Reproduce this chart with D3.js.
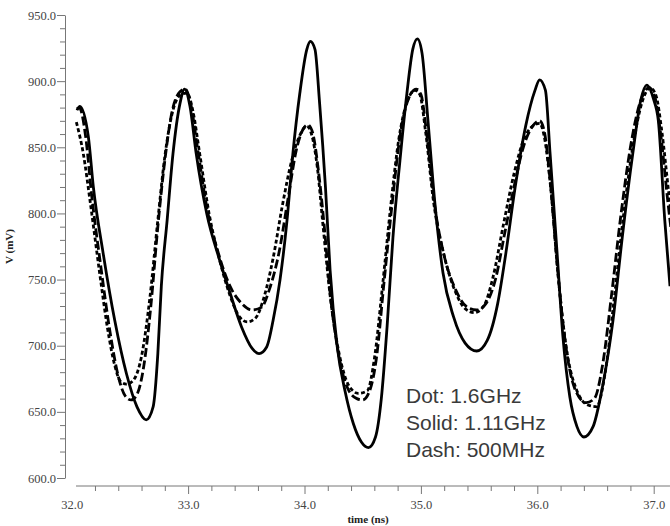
<!DOCTYPE html>
<html>
<head>
<meta charset="utf-8">
<script src="https://cdn.jsdelivr.net/npm/d3@7"></script>
<style>
  body { margin: 0; background: #fff; }
  svg { display: block; }
</style>
</head>
<body>
<script>
// Data (time in ns, voltage in mV)
var solidT = [32.045, 32.07, 32.143, 32.186, 32.27, 32.37, 32.47, 32.56, 32.64, 32.70, 32.74, 32.77, 32.82, 32.87, 32.93, 32.97,
  33.016, 33.07, 33.16, 33.27, 33.36, 33.46, 33.55, 33.61, 33.675, 33.73, 33.79, 33.85, 33.90, 33.96, 34.02, 34.05,
  34.09, 34.13, 34.18, 34.22, 34.28, 34.35, 34.42, 34.49, 34.55, 34.61, 34.66, 34.71, 34.76, 34.82, 34.88, 34.93, 34.97,
  35.01, 35.06, 35.12, 35.19, 35.28, 35.38, 35.48, 35.57, 35.66, 35.73, 35.81, 35.90, 35.98, 36.02,
  36.07, 36.11, 36.17, 36.22, 36.28, 36.34, 36.40, 36.48, 36.56, 36.65, 36.73, 36.82, 36.89, 36.94,
  37.0, 37.04, 37.095, 37.14];
var solidV = [878, 881, 858, 820, 770, 719, 679, 654, 644, 654, 694, 745, 795, 845, 883, 894,
  881, 845, 800, 765, 740, 714, 698, 694, 699, 719, 750, 795, 845, 891, 924, 930,
  924, 883, 820, 757, 700, 665, 641, 627, 623, 631, 660, 715, 782, 840, 891, 924, 932,
  921, 871, 808, 755, 722, 702, 696, 704, 732, 770, 820, 866, 893, 901,
  893, 845, 770, 707, 661, 639, 631, 639, 669, 719, 782, 845, 886, 897,
  886, 870, 795, 745];

var dashT = [32.045, 32.065, 32.12, 32.17, 32.25, 32.33, 32.40, 32.46, 32.51, 32.56, 32.62, 32.68, 32.74, 32.80, 32.86, 32.93, 32.975,
  33.02, 33.08, 33.16, 33.26, 33.36, 33.46, 33.55, 33.63, 33.70, 33.78, 33.86, 33.93, 33.99, 34.03,
  34.07, 34.12, 34.17, 34.22, 34.29, 34.37, 34.45, 34.50, 34.56, 34.62, 34.68, 34.75, 34.82, 34.89, 34.96,
  35.0, 35.05, 35.12, 35.2, 35.3, 35.4, 35.48, 35.56, 35.64, 35.72, 35.80, 35.88, 35.96, 36.02,
  36.06, 36.11, 36.17, 36.24, 36.32, 36.42, 36.49, 36.56, 36.64, 36.72, 36.80, 36.88, 36.96,
  37.01, 37.06, 37.12, 37.16];
var dashV = [879, 880, 858, 815, 760, 710, 677, 662, 659, 663, 685, 730, 790, 840, 876, 892, 894,
  884, 850, 805, 770, 745, 732, 727, 729, 743, 770, 812, 848, 864, 867,
  861, 832, 790, 740, 695, 668, 660, 659, 666, 692, 745, 805, 858, 886, 894,
  890, 860, 805, 768, 742, 729, 727, 732, 750, 785, 820, 850, 866, 870,
  862, 825, 762, 703, 668, 657, 660, 685, 740, 800, 850, 883, 895,
  888, 860, 810, 780];

var dotT = [32.04, 32.10, 32.16, 32.24, 32.31, 32.37, 32.42, 32.47, 32.53, 32.60, 32.67, 32.74, 32.80, 32.87, 32.94, 32.99,
  33.04, 33.10, 33.18, 33.27, 33.36, 33.44, 33.51, 33.58, 33.65, 33.73, 33.81, 33.89, 33.96, 34.02,
  34.06, 34.11, 34.16, 34.22, 34.30, 34.38, 34.46, 34.54, 34.60, 34.67, 34.74, 34.81, 34.88, 34.95,
  34.99, 35.04, 35.11, 35.2, 35.3, 35.38, 35.46, 35.54, 35.62, 35.71, 35.80, 35.88, 35.96, 36.02,
  36.06, 36.12, 36.18, 36.25, 36.34, 36.44, 36.51, 36.58, 36.66, 36.74, 36.82, 36.90, 36.97,
  37.02, 37.07, 37.13, 37.17];
var dotV = [869, 845, 808, 755, 712, 685, 673, 671, 674, 692, 735, 795, 843, 878, 890, 891,
  878, 845, 800, 765, 738, 722, 718, 721, 736, 766, 806, 840, 859, 866,
  860, 835, 790, 738, 693, 670, 664, 666, 690, 745, 805, 856, 884, 893,
  890, 862, 808, 768, 740, 728, 725, 730, 752, 792, 830, 855, 866, 868,
  858, 815, 752, 698, 666, 655, 654, 678, 735, 798, 850, 884, 895,
  889, 862, 815, 785];

var yMajor = [600, 650, 700, 750, 800, 850, 900, 950];
var xMajor = [32, 33, 34, 35, 36, 37];
var legendLines = ["Dot: 1.6GHz", "Solid: 1.11GHz", "Dash: 500MHz"];

// Dimensions
var width = 670;
var height = 526;

var x = d3.scaleLinear().domain([32, 37]).range([71.7, 653.7]);
var y = d3.scaleLinear().domain([600, 950]).range([478, 15]);

var svg = d3.select("body")
  .append("svg")
  .attr("width", width)
  .attr("height", height);

var axisColor = "#777";
var labelColor = "#444";
var serif = "'Liberation Serif', 'Times New Roman', serif";

// Y axis
var yMinor = d3.range(600, 951, 10).filter(function (v) { return v % 50 !== 0; });
var yAxisG = svg.append("g").attr("transform", "translate(65,0)");
yAxisG.append("g")
  .call(d3.axisLeft(y).tickValues(yMinor).tickSize(5).tickSizeOuter(0).tickFormat(""))
  .call(function (g) { g.select(".domain").remove(); });
yAxisG.append("g")
  .call(d3.axisLeft(y).tickValues(yMajor).tickSize(8).tickSizeOuter(0).tickPadding(1).tickFormat(d3.format(".1f")));
yAxisG.selectAll("line, path").attr("stroke", axisColor);
yAxisG.selectAll("text")
  .attr("fill", labelColor)
  .style("font-family", serif)
  .style("font-size", "12.5px");

// X axis
var xMinor = d3.range(32.2, 37.01, 0.2).filter(function (v) { return Math.abs(v - Math.round(v)) > 0.01; });
var xAxisG = svg.append("g").attr("transform", "translate(0,486)");
xAxisG.append("line")
  .attr("x1", x(32.037))
  .attr("x2", x(37.14))
  .attr("stroke", axisColor);
xAxisG.append("g")
  .call(d3.axisBottom(x).tickValues(xMinor).tickSize(5).tickSizeOuter(0).tickFormat(""))
  .call(function (g) { g.select(".domain").remove(); });
var xMajorG = xAxisG.append("g")
  .call(d3.axisBottom(x).tickValues(xMajor).tickSize(8).tickSizeOuter(0).tickPadding(6).tickFormat(d3.format(".1f")))
  .call(function (g) { g.select(".domain").remove(); });
xMajorG.selectAll(".tick").filter(function (d) { return d === 32; }).select("line").remove();
xAxisG.selectAll("line").attr("stroke", axisColor);
xAxisG.selectAll("text")
  .attr("fill", labelColor)
  .style("font-family", serif)
  .style("font-size", "12.5px");

// Axis titles
svg.append("text")
  .attr("x", 368)
  .attr("y", 523)
  .attr("text-anchor", "middle")
  .attr("fill", "#222")
  .style("font-family", serif)
  .style("font-weight", "bold")
  .style("font-size", "11px")
  .text("time (ns)");

svg.append("text")
  .attr("transform", "translate(13," + (y(775)) + ") rotate(-90)")
  .attr("text-anchor", "middle")
  .attr("fill", "#222")
  .style("font-family", serif)
  .style("font-weight", "bold")
  .style("font-size", "11px")
  .text("V (mV)");

// Curves
var line = d3.line()
  .x(function (d) { return x(d[0]); })
  .y(function (d) { return y(d[1]); })
  .curve(d3.curveMonotoneX);

var series = [
  { t: dashT, v: dashV, dash: "9,3.5" },
  { t: dotT, v: dotV, dash: "4,2.5" },
  { t: solidT, v: solidV, dash: null }
];

series.forEach(function (s) {
  var pts = s.t.map(function (t, i) { return [t, s.v[i]]; });
  svg.append("path")
    .datum(pts)
    .attr("d", line)
    .attr("fill", "none")
    .attr("stroke", "#000")
    .attr("stroke-width", 2.8)
    .attr("stroke-dasharray", s.dash);
});

// Legend text
svg.selectAll(".legend")
  .data(legendLines)
  .enter()
  .append("text")
  .attr("class", "legend")
  .attr("x", 406)
  .attr("y", function (d, i) { return 403 + i * 27; })
  .attr("fill", "#3a3a3a")
  .style("font-family", "'Liberation Sans', Arial, sans-serif")
  .style("font-size", "21px")
  .text(function (d) { return d; });
</script>
</body>
</html>
